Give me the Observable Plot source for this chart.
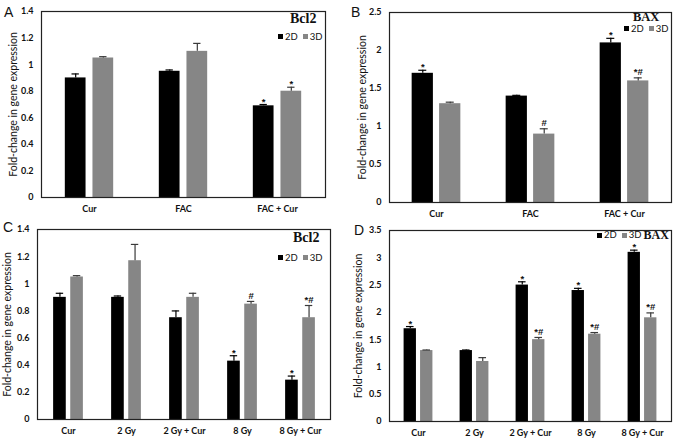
<!DOCTYPE html>
<html><head><meta charset="utf-8">
<script src="https://cdn.jsdelivr.net/npm/d3@7"></script>
<script src="https://cdn.jsdelivr.net/npm/@observablehq/plot@0.6"></script>
<style>
body{margin:0;background:#fff;}
#fig{position:relative;width:677px;height:443px;overflow:hidden;background:#fff;}
.panel{position:absolute;}
.letter{position:absolute;font-family:"Liberation Sans",Arial,sans-serif;font-size:14px;line-height:1;color:#111;}
.gene{position:absolute;font-family:"Liberation Serif","Times New Roman",serif;font-weight:bold;line-height:1;color:#111;}
.legend{position:absolute;font-family:Lato,sans-serif;font-size:9.5px;line-height:1;display:flex;align-items:center;white-space:nowrap;color:#111;}
.sw{display:inline-block;width:5px;height:5px;margin-right:2px;}
</style></head><body><div id="fig"></div>
<script>
// ---- data ----
const seriesNames = ["2D", "3D"];
const seriesColors = ["#000000", "#868686"];
const errColors = ["#000000", "#3a3a3a"];
const yTitle = "Fold-change in gene expression";

const catsAB = ["Cur", "FAC", "FAC + Cur"];
const catsCD = ["Cur", "2 Gy", "2 Gy + Cur", "8 Gy", "8 Gy + Cur"];

const ticksBcl2 = [0, 0.2, 0.4, 0.6, 0.8, 1, 1.2, 1.4];
const ticksB = [0, 0.5, 1, 1.5, 2, 2.5];
const ticksD = [0, 0.5, 1, 1.5, 2, 2.5, 3, 3.5];

// Panel A (Bcl2)
const a2D = [0.90, 0.95, 0.69];
const a2Derr = [0.03, 0.01, 0.01];
const a2Dsig = ["", "", "*"];
const a3D = [1.05, 1.10, 0.80];
const a3Derr = [0.01, 0.06, 0.03];
const a3Dsig = ["", "", "*"];

// Panel B (BAX)
const b2D = [1.70, 1.40, 2.10];
const b2Derr = [0.04, 0.01, 0.06];
const b2Dsig = ["*", "", "*"];
const b3D = [1.30, 0.90, 1.60];
const b3Derr = [0.02, 0.07, 0.04];
const b3Dsig = ["", "#", "*#"];

// Panel C (Bcl2)
const c2D = [0.90, 0.90, 0.75, 0.43, 0.29];
const c2Derr = [0.03, 0.01, 0.05, 0.04, 0.03];
const c2Dsig = ["", "", "", "*", "*"];
const c3D = [1.05, 1.17, 0.90, 0.85, 0.75];
const c3Derr = [0.01, 0.12, 0.03, 0.02, 0.09];
const c3Dsig = ["", "", "", "#", "*#"];

// Panel D (BAX)
const d2D = [1.70, 1.30, 2.50, 2.40, 3.10];
const d2Derr = [0.04, 0.01, 0.06, 0.04, 0.04];
const d2Dsig = ["*", "", "*", "*", "*"];
const d3D = [1.30, 1.10, 1.50, 1.60, 1.90];
const d3Derr = [0.01, 0.07, 0.04, 0.03, 0.09];
const d3Dsig = ["", "", "*#", "*#", "*#"];

// ---- build ----
function rows(cats, vals, errs, sigs) {
  return cats.map((c, i) => ({cat: c, val: vals[i], err: errs[i], sig: sigs[i]}));
}

const fig = document.getElementById("fig");

function panel(cfg) {
  const {left, top, width, height, ml, mr, mt, mb, cats, ticks, series, titleDx} = cfg;
  const bw = (width - ml - mr) / cats.length;
  const barW = bw * 0.226;
  const gap = bw * 0.066;
  const marks = [];
  series.forEach((data, s) => {
    const inL = s === 0 ? bw / 2 - gap / 2 - barW : bw / 2 + gap / 2;
    const inR = s === 0 ? bw / 2 + gap / 2 : bw / 2 - gap / 2 - barW;
    const off = (s === 0 ? -1 : 1) * (gap / 2 + barW / 2);
    const cap = 4;
    const sigStyle = {x: "cat", y: d => d.val + d.err, text: "sig", dx: off, lineAnchor: "bottom",
      fontSize: 9.5, fontWeight: "bold", fontFamily: "Liberation Sans, Arial, sans-serif", fill: "#111"};
    marks.push(Plot.barY(data, {x: "cat", y: "val", fill: seriesColors[s], insetLeft: inL, insetRight: inR}));
    marks.push(Plot.ruleX(data, {x: "cat", y1: "val", y2: d => d.val + d.err, dx: off, stroke: errColors[s], strokeWidth: 1.2}));
    marks.push(Plot.tickY(data, {x: "cat", y: d => d.val + d.err, stroke: errColors[s], strokeWidth: 1.2,
      insetLeft: bw / 2 + off - cap, insetRight: bw / 2 - off - cap}));
    marks.push(Plot.text(data.filter(d => d.sig && !d.sig.includes("#")), {...sigStyle, dy: 0}));
    marks.push(Plot.text(data.filter(d => d.sig.includes("#")), {...sigStyle, dy: -2.5}));
  });
  marks.push(Plot.frame({stroke: "#222", strokeWidth: 1.2}));
  marks.push(Plot.text([yTitle], {text: d => d, frameAnchor: "left", textAnchor: "middle", lineAnchor: "middle",
    rotate: -90, dx: titleDx, fontSize: 10.5, fontWeight: "normal", fill: "#111"}));
  const svg = Plot.plot({
    width, height, marginLeft: ml, marginRight: mr, marginTop: mt, marginBottom: mb,
    style: {fontFamily: "Lato, sans-serif", fontSize: "9px", fontWeight: "bold", background: "transparent", color: "#111", overflow: "visible"},
    x: {domain: cats, padding: 0, label: null, tickSize: 0, tickPadding: 8},
    y: {domain: [0, ticks[ticks.length - 1]], ticks: ticks, tickFormat: d => String(d), tickSize: 0, tickPadding: 8, label: null},
    marks
  });
  const div = document.createElement("div");
  div.className = "panel";
  div.style.left = left + "px";
  div.style.top = top + "px";
  div.appendChild(svg);
  fig.appendChild(div);
}

function addDiv(cls, text, left, top, extra) {
  const el = document.createElement("div");
  el.className = cls;
  el.style.left = left + "px";
  el.style.top = top + "px";
  if (extra) Object.assign(el.style, extra);
  el.textContent = text;
  fig.appendChild(el);
  return el;
}

function legend(left, top, gene) {
  const el = document.createElement("div");
  el.className = "legend";
  el.style.left = left + "px";
  el.style.top = top + "px";
  seriesNames.forEach((n, i) => {
    const sw = document.createElement("span");
    sw.className = "sw";
    sw.style.background = seriesColors[i];
    const t = document.createElement("span");
    t.textContent = n;
    t.style.marginRight = i === 0 ? "5px" : "2px";
    el.appendChild(sw);
    el.appendChild(t);
  });
  if (gene) {
    const g = document.createElement("span");
    g.textContent = gene;
    g.style.fontFamily = '"Liberation Serif","Times New Roman",serif';
    g.style.fontWeight = "bold";
    g.style.fontSize = "12px";
    el.appendChild(g);
  }
  fig.appendChild(el);
}

panel({left: 0, top: 0, width: 338, height: 222, ml: 41, mr: 13, mt: 11, mb: 25, cats: catsAB, ticks: ticksBcl2, titleDx: -28,
  series: [rows(catsAB, a2D, a2Derr, a2Dsig), rows(catsAB, a3D, a3Derr, a3Dsig)]});
panel({left: 338, top: 0, width: 339, height: 222, ml: 51, mr: 6, mt: 12, mb: 20, cats: catsAB, ticks: ticksB, titleDx: -27,
  series: [rows(catsAB, b2D, b2Derr, b2Dsig), rows(catsAB, b3D, b3Derr, b3Dsig)]});
panel({left: 0, top: 222, width: 338, height: 221, ml: 37, mr: 8, mt: 7, mb: 24, cats: catsCD, ticks: ticksBcl2, titleDx: -30,
  series: [rows(catsCD, c2D, c2Derr, c2Dsig), rows(catsCD, c3D, c3Derr, c3Dsig)]});
panel({left: 338, top: 222, width: 339, height: 221, ml: 51, mr: 6, mt: 8, mb: 22, cats: catsCD, ticks: ticksD, titleDx: -31,
  series: [rows(catsCD, d2D, d2Derr, d2Dsig), rows(catsCD, d3D, d3Derr, d3Dsig)]});

addDiv("letter", "A", 4, 5);
addDiv("letter", "B", 351, 5);
addDiv("letter", "C", 3, 220);
addDiv("letter", "D", 354, 223);

addDiv("gene", "Bcl2", 290, 12, {fontSize: "14px"});
addDiv("gene", "BAX", 633, 11, {fontSize: "12.5px"});
addDiv("gene", "Bcl2", 293, 231, {fontSize: "14px"});

legend(278, 32, null);
legend(624, 24, null);
legend(278, 253, null);
legend(597, 229, "BAX");
</script></body></html>
